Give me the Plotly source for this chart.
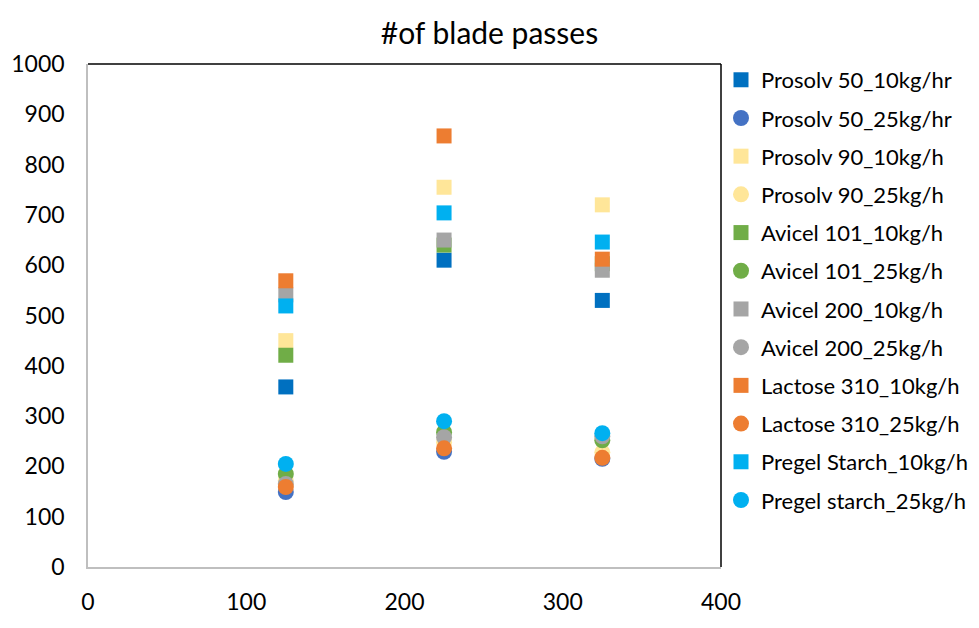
import plotly.graph_objects as go

x_vals = [125, 225, 325]

names = [
    "Prosolv 50_10kg/hr", "Prosolv 50_25kg/hr",
    "Prosolv 90_10kg/h", "Prosolv 90_25kg/h",
    "Avicel 101_10kg/h", "Avicel 101_25kg/h",
    "Avicel 200_10kg/h", "Avicel 200_25kg/h",
    "Lactose 310_10kg/h", "Lactose 310_25kg/h",
    "Pregel Starch_10kg/h", "Pregel starch_25kg/h",
]

prosolv50_10 = [358, 610, 530]
prosolv50_25 = [149, 229, 215]
prosolv90_10 = [450, 755, 720]
prosolv90_25 = [172, 248, 228]
avicel101_10 = [421, 640, 603]
avicel101_25 = [185, 268, 252]
avicel200_10 = [541, 650, 590]
avicel200_25 = [165, 258, 260]
lactose310_10 = [569, 857, 612]
lactose310_25 = [159, 236, 217]
pregel_10 = [519, 704, 646]
pregel_25 = [205, 290, 266]

series = [prosolv50_10, prosolv50_25, prosolv90_10, prosolv90_25,
          avicel101_10, avicel101_25, avicel200_10, avicel200_25,
          lactose310_10, lactose310_25, pregel_10, pregel_25]

colors = ["#0070C0", "#4472C4", "#FFE699", "#FFE699", "#70AD47", "#70AD47",
          "#A5A5A5", "#A5A5A5", "#ED7D31", "#ED7D31", "#00B0F0", "#00B0F0"]
symbols = ["square", "circle"] * 6

FONT = "Lato"

fig = go.Figure()
for i, (nm, ys) in enumerate(zip(names, series)):
    fig.add_trace(go.Scatter(
        x=x_vals, y=ys, mode="markers", name=nm,
        legendgroup=f"g{i}",
        marker=dict(symbol=symbols[i], color=colors[i],
                    size=15 if symbols[i] == "square" else 16,
                    line=dict(width=0)),
    ))

fig.update_layout(
    width=979, height=628,
    margin=dict(l=80, r=266, t=56, b=69, autoexpand=False),
    paper_bgcolor="white", plot_bgcolor="white",
    font=dict(family=FONT, size=23, color="#000000"),
    title=dict(text="#of blade passes", x=0.4918, xref="container", xanchor="center",
               y=0.959, yanchor="middle", font=dict(size=30, family=FONT)),
    showlegend=True,
    legend=dict(x=1.0, xanchor="left", y=1.01, yanchor="top",
                font=dict(size=22, family=FONT),
                traceorder="grouped", tracegroupgap=6.6,
                itemwidth=30, maxheight=620, bgcolor="rgba(0,0,0,0)"),
    xaxis=dict(range=[0, 400], tickvals=[0, 100, 200, 300, 400],
               automargin=False,
               showgrid=False, zeroline=False, ticks="outside", ticklen=14,
               tickcolor="rgba(0,0,0,0)",
               showline=True, linecolor="#BFBFBF", linewidth=1.5,
               tickfont=dict(size=23, family=FONT)),
    yaxis=dict(range=[0, 1000], tickvals=list(range(0, 1001, 100)),
               automargin=False,
               showgrid=False, zeroline=False, ticks="outside", ticklen=17,
               tickcolor="rgba(0,0,0,0)",
               showline=True, linecolor="#BFBFBF", linewidth=1.5,
               tickfont=dict(size=23, family=FONT)),
    shapes=[
        dict(type="line", xref="paper", yref="paper", x0=0, x1=1, y0=1, y1=1,
             line=dict(color="#000000", width=1.5)),
        dict(type="line", xref="paper", yref="paper", x0=1, x1=1, y0=0, y1=1,
             line=dict(color="#000000", width=1.5)),
    ],
)

fig.write_html("out.html")
